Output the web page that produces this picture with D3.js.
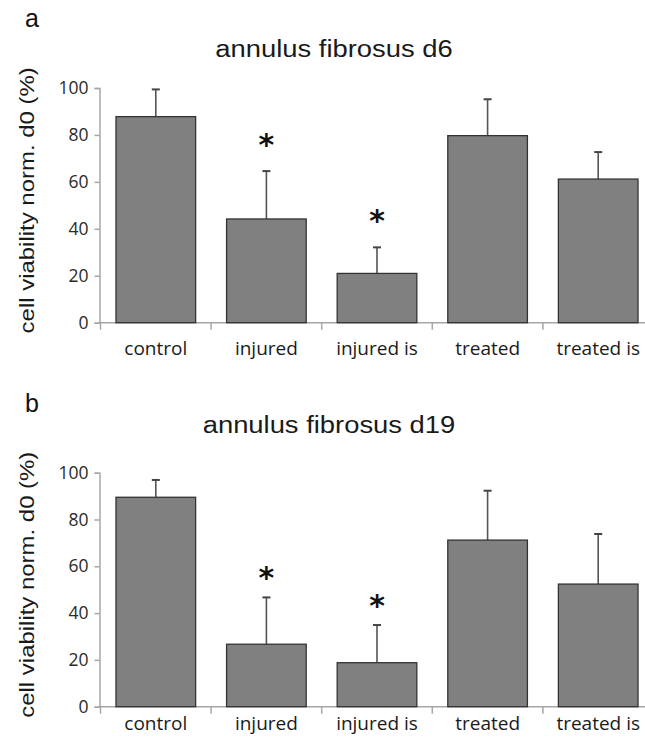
<!DOCTYPE html>
<html>
<head>
<meta charset="utf-8">
<script src="https://cdn.jsdelivr.net/npm/d3@7"></script>
<style>
  body { margin: 0; background: #fff; }
  svg { display: block; }
</style>
</head>
<body>
<script>
// Data
var categories = ["control", "injured", "injured is", "treated", "treated is"];
var yTicks = [0, 20, 40, 60, 80, 100];

var d6Means  = [87.8, 44.2, 21.0, 79.7, 61.2];
var d6Errors = [11.6, 20.4, 11.1, 15.5, 11.5];
var d6Sig    = [false, true, true, false, false];

var d19Means  = [89.5, 26.7, 18.8, 71.2, 52.4];
var d19Errors = [7.4, 20.0, 16.1, 21.1, 21.4];
var d19Sig    = [false, true, true, false, false];

var width = 645, height = 747;

var svg = d3.select("body")
            .append("svg")
            .attr("width", width)
            .attr("height", height);

// Stretch text along its direction, the source figure's type is wide
function stretch(sel, k) {
  sel.each(function() {
    var len = this.getComputedTextLength();
    d3.select(this).attr("textLength", len * k).attr("lengthAdjust", "spacingAndGlyphs");
  });
}

var x = d3.scaleBand()
          .domain(categories)
          .range([100.5, 653.5])
          .paddingInner(0.28)
          .paddingOuter(0.14);

var panels = [
  {letter: "a", title: "annulus fibrosus d6",  means: d6Means,  errors: d6Errors,  sig: d6Sig,
   top: 88,    bottom: 322.7, letterY: 27,  titleX: 334, titleY: 57,  labelDy: 32, starGap: 31},
  {letter: "b", title: "annulus fibrosus d19", means: d19Means, errors: d19Errors, sig: d19Sig,
   top: 472.7, bottom: 706.7, letterY: 412, titleX: 329, titleY: 433, labelDy: 23, starGap: 24}
];

panels.forEach(drawPanel);

function drawPanel(p) {
  var y = d3.scaleLinear().domain([0, 100]).range([p.bottom, p.top]);
  var g = svg.append("g");

  // panel letter and title
  g.append("text")
   .attr("x", 25).attr("y", p.letterY)
   .attr("font-family", "Liberation Sans, Arial, sans-serif")
   .attr("font-size", 25)
   .attr("fill", "#111")
   .text(p.letter);

  g.append("text")
   .attr("x", p.titleX).attr("y", p.titleY)
   .attr("text-anchor", "middle")
   .attr("font-family", "Liberation Sans, Arial, sans-serif")
   .attr("font-size", 23)
   .attr("fill", "#1a1a1a")
   .text(p.title)
   .call(stretch, 1.19);

  // y axis title
  g.append("text")
   .attr("transform", "translate(34," + ((p.top + p.bottom) / 2 - 5) + ") rotate(-90)")
   .attr("text-anchor", "middle")
   .attr("font-family", "Liberation Sans, Arial, sans-serif")
   .attr("font-size", 21)
   .attr("fill", "#1a1a1a")
   .text("cell viability norm. d0 (%)")
   .call(stretch, 1.14);

  // y axis
  var yAxis = g.append("g")
               .attr("transform", "translate(99.5,0)")
               .call(d3.axisLeft(y).tickValues(yTicks).tickSize(5).tickPadding(6));
  yAxis.select(".domain").attr("stroke", "#a6a6a6").attr("stroke-width", 1.5);
  yAxis.selectAll(".tick line").attr("stroke", "#a6a6a6").attr("stroke-width", 1.5);
  yAxis.selectAll(".tick text")
       .attr("font-family", "Open Sans, sans-serif")
       .attr("font-size", 17.5)
       .attr("fill", "#2a2a2a");

  // x axis line with ticks between categories
  g.append("line")
   .attr("x1", 99.5).attr("x2", width)
   .attr("y1", y(0)).attr("y2", y(0))
   .attr("stroke", "#a6a6a6").attr("stroke-width", 1.5);

  var step = x.step();
  g.selectAll(".xtick")
   .data(categories)
   .join("line")
   .attr("class", "xtick")
   .attr("x1", function(d) { return x(d) - step * x.paddingInner() / 2; })
   .attr("x2", function(d) { return x(d) - step * x.paddingInner() / 2; })
   .attr("y1", y(0)).attr("y2", y(0) + 7)
   .attr("stroke", "#a6a6a6").attr("stroke-width", 1.5);

  g.selectAll(".xlabel")
   .data(categories)
   .join("text")
   .attr("class", "xlabel")
   .attr("x", function(d) { return x(d) + x.bandwidth() / 2; })
   .attr("y", y(0) + p.labelDy)
   .attr("text-anchor", "middle")
   .attr("font-family", "Open Sans, sans-serif")
   .attr("font-size", 19)
   .attr("fill", "#1a1a1a")
   .text(function(d) { return d; });

  var rows = categories.map(function(c, i) {
    return {cat: c, mean: p.means[i], err: p.errors[i], sig: p.sig[i]};
  });

  // error bars (upper only), drawn under the bars
  g.selectAll(".err")
   .data(rows)
   .join("line")
   .attr("class", "err")
   .attr("x1", function(d) { return x(d.cat) + x.bandwidth() / 2; })
   .attr("x2", function(d) { return x(d.cat) + x.bandwidth() / 2; })
   .attr("y1", function(d) { return y(d.mean); })
   .attr("y2", function(d) { return y(d.mean + d.err); })
   .attr("stroke", "#555").attr("stroke-width", 1.6);

  g.selectAll(".cap")
   .data(rows)
   .join("line")
   .attr("class", "cap")
   .attr("x1", function(d) { return x(d.cat) + x.bandwidth() / 2 - 4; })
   .attr("x2", function(d) { return x(d.cat) + x.bandwidth() / 2 + 4; })
   .attr("y1", function(d) { return y(d.mean + d.err); })
   .attr("y2", function(d) { return y(d.mean + d.err); })
   .attr("stroke", "#444").attr("stroke-width", 2);

  g.selectAll(".bar")
   .data(rows)
   .join("rect")
   .attr("class", "bar")
   .attr("x", function(d) { return x(d.cat); })
   .attr("width", x.bandwidth())
   .attr("y", function(d) { return y(d.mean); })
   .attr("height", function(d) { return y(0) - y(d.mean); })
   .attr("fill", "#808080")
   .attr("stroke", "#333").attr("stroke-width", 1.3);

  // significance stars
  g.selectAll(".star")
   .data(rows.filter(function(d) { return d.sig; }))
   .join("text")
   .attr("class", "star")
   .attr("x", function(d) { return x(d.cat) + x.bandwidth() / 2; })
   .attr("y", function(d) { return y(d.mean + d.err) - p.starGap + 15; })
   .attr("text-anchor", "middle")
   .attr("font-family", "DejaVu Sans, sans-serif")
   .attr("font-weight", "bold")
   .attr("font-size", 30)
   .attr("fill", "#111")
   .text("*");
}
</script>
</body>
</html>
